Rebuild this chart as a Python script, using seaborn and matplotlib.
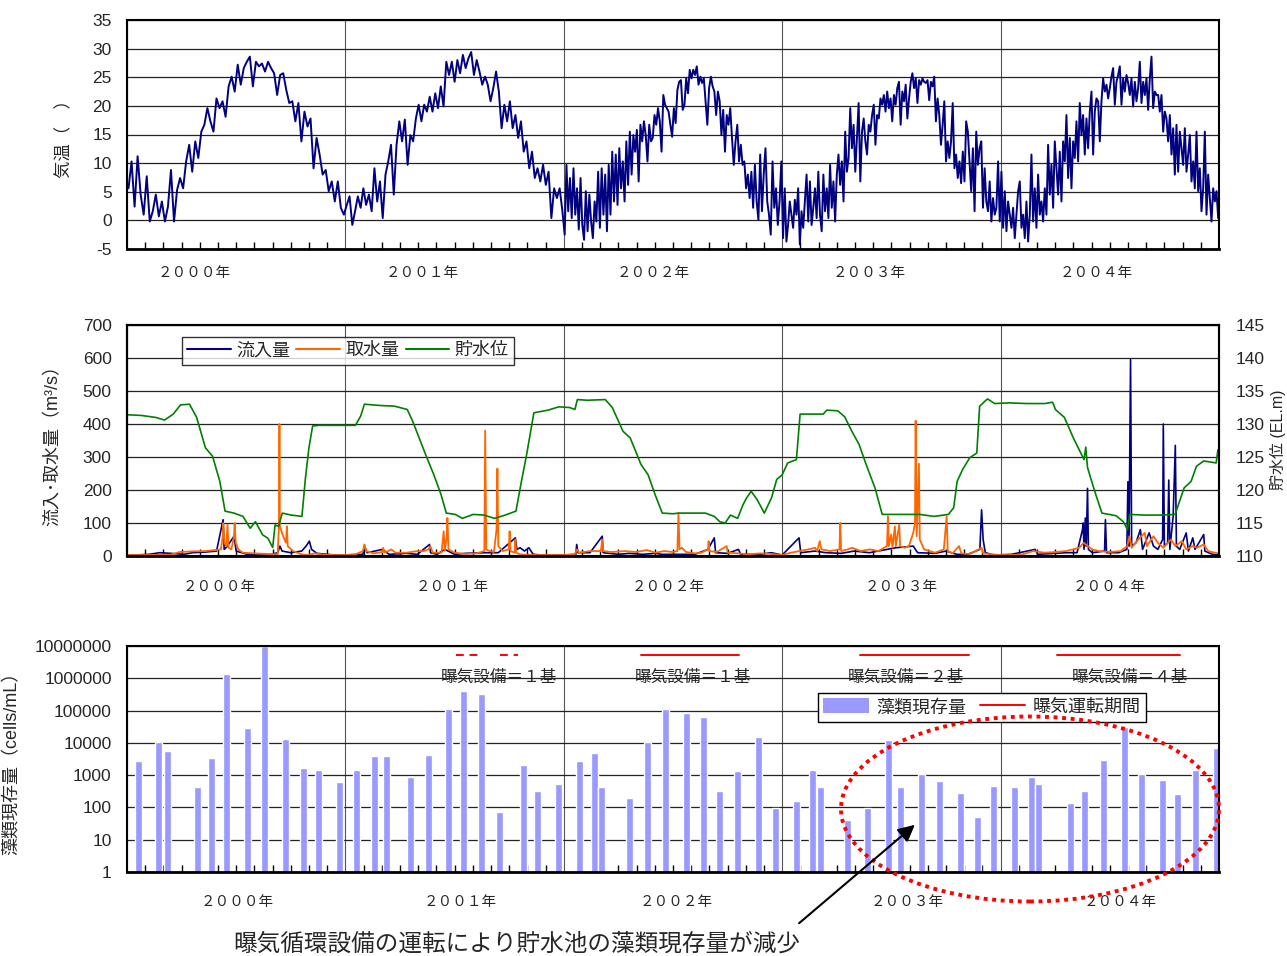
import numpy as np
import pandas as pd
import matplotlib
matplotlib.use("Agg")
import matplotlib.pyplot as plt
import seaborn as sns
from matplotlib.patches import Ellipse, FancyArrowPatch, Patch
from matplotlib.lines import Line2D
from matplotlib.transforms import blended_transform_factory

# ---------------- DATA ----------------
years = [2000, 2001, 2002, 2003, 2004]
year_labels = ["２０００年", "２００１年", "２００２年", "２００３年", "２００４年"]

# Air temperature (deg C), samples evenly spread over each year
temp_2000 = [5.6, 10.3, 2.4, 11.2, 4.5, 1.0, 7.7, -0.2, 1.6, 4.5, 0.7, 3.3, -0.2, 2.4, 8.8, -0.2, 5.3, 7.4,
             5.6, 10.3, 13.2, 8.5, 13.8, 10.9, 15.5, 16.7, 19.6, 17.3, 15.5, 21.3, 19.6, 20.8, 18.1, 23.4,
             25.1, 22.5, 27.2, 23.7, 26.6, 27.7, 28.6, 23.4, 27.7, 26.9, 27.4, 26.0, 27.7, 26.6, 25.7, 21.9,
             25.4, 25.7, 22.8, 20.5, 20.8, 17.3, 20.5, 13.8, 19.0, 16.4, 17.8, 9.1, 14.4, 11.5, 8.0, 8.8,
             5.1, 6.8, 3.3, 6.8, 2.2, 1.0]
temp_2001 = [2.7, 4.2, -0.8, 1.6, 4.2, 2.2, 5.6, 2.7, 4.5, 1.6, 9.1, 3.3, 6.8, 0.4, 8.0, 10.3, 13.2,
             4.5, 13.2, 17.3, 13.8, 17.6, 9.7, 14.9, 13.8, 17.8, 20.2, 17.3, 20.2, 19.0, 21.6, 19.0, 22.2,
             19.6, 23.4, 19.9, 27.7, 25.4, 27.7, 24.2, 28.0, 25.7, 28.9, 26.6, 28.3, 29.4, 25.4, 28.0, 26.0,
             23.7, 25.1, 23.7, 20.8, 23.1, 26.0, 22.5, 16.1, 20.2, 17.3, 20.8, 16.1, 18.4, 14.4, 17.3, 12.0,
             13.8, 9.1, 12.0, 7.4, 9.1, 6.8, 9.7, 6.2, 8.5, 0.4, 5.6, 3.9, 5.6, 1.6]
temp_2002 = [-2.5, 9.7, 1.6, 7.4, 0.4, 9.1, 1.0, 5.6, -1.6, 7.4, -0.8, -3.4, 5.1, -1.9, 4.5, -0.2, -3.1, 3.3,
             -0.2, 8.5, -1.3, 9.1, 1.0, 8.0, -1.9, 9.7, 1.0, 12.0, 3.3, 11.5, 2.7, 12.6, 5.6, 10.3, 3.3, 13.8,
             6.2, 15.5, 8.0, 14.9, 12.0, 15.8, 6.8, 16.7, 13.8, 17.3, 14.9, 10.3, 16.7, 13.8, 14.4, 18.4, 16.7,
             19.6, 17.3, 12.0, 21.9, 20.2, 19.6, 19.0, 16.7, 14.6, 19.6, 17.0, 22.8, 24.2, 24.5, 19.3,
             20.2, 24.8, 22.2, 26.3, 24.8, 26.3, 25.4, 26.9, 23.7, 25.1, 24.0, 24.8, 20.8, 16.7, 23.1, 25.1,
             23.4, 22.5, 18.4, 22.5, 20.8, 14.9, 19.3, 12.0, 18.4, 16.7, 19.6, 14.4, 9.7, 13.8, 16.7, 10.3,
             13.2, 9.7, 10.3, 5.6, 8.0, 3.9, 8.5, 2.2, 9.7, 3.3, 0.1, 11.5, 1.6, 8.0, 12.6, 3.3, 1.0, -2.5,
             10.3, 2.2, 5.6, -0.8, 3.3, 10.3]
temp_2003 = [-3.1, 5.6, -3.7, -0.8, 3.3, 1.0, -1.3, 3.6, 1.0, 5.6, -4.2, 1.6, -1.3, 3.3, 8.0, -0.2, 6.8, -0.8,
             2.2, 5.6, 0.4, 8.5, 1.0, -1.9, 8.0, 1.6, 5.6, 0.4, 9.7, 2.2, 6.8, -0.2, 8.0, 11.5, 6.2, 10.3, 3.3,
             15.5, 8.5, 10.9, 19.6, 12.6, 16.7, 8.5, 14.4, 20.5, 6.8, 15.5, 17.8, 13.8, 11.5, 16.7, 15.5, 18.4,
             20.2, 13.2, 18.4, 17.8, 21.3, 20.2, 21.9, 19.0, 22.5, 19.6, 21.3, 17.3, 21.9, 20.2, 23.1, 24.2,
             16.7, 22.5, 20.8, 23.7, 17.8, 21.3, 24.2, 25.7, 23.1, 24.8, 20.5, 24.5, 23.7, 24.8, 24.2, 24.0,
             24.5, 21.0, 24.2, 23.4, 25.1, 17.3, 21.3, 18.4, 13.2, 16.7, 20.8, 10.3, 13.8, 10.9, 13.8, 20.5,
             9.1, 11.5, 7.4, 10.3, 6.5, 12.0, 6.8, 17.3, 15.5,
             10.3, 5.1, 12.6, 1.6, 15.5, 9.7, 12.6, 13.8, 2.2, 9.1, 3.3, 1.6, 6.8, -0.2, 3.9, 1.0, 2.2, 10.3, -0.2]
temp_2004 = [8.5, -1.3, 5.1, -1.9, 3.3, 1.0, -1.3, 2.2, -3.1, 1.0, 5.1, 6.8, -1.3, 1.0, -3.1, 3.3, -3.7, 1.0,
             11.5, -0.2, 5.6, -1.3, 8.0, 1.0, 3.3, -0.2, 5.6, 1.0, 13.2, 4.5, 9.7, 2.2, 13.8, 9.1, 4.5, 12.0,
             3.3, 13.8, 10.3, 18.4, 7.4, 14.4, 5.6, 13.8, 10.9, 17.3, 10.3, 20.5, 14.9, 18.4, 11.5, 17.8, 12.6,
             19.0, 22.5, 11.5, 19.0, 21.3, 20.8, 13.8, 20.8, 24.8, 22.5, 23.7, 21.3, 23.1, 25.1, 26.6, 20.2,
             24.2, 25.4, 26.9, 20.2, 24.8, 22.5, 25.4, 24.0, 21.9, 24.8, 19.9, 24.2, 20.8, 23.1, 27.7, 20.5,
             24.2, 21.9, 24.8, 19.3, 24.8, 28.6, 19.6, 22.5, 21.9, 21.9, 19.0, 21.9, 15.5, 19.0, 17.8, 13.8,
             18.4, 11.5, 16.1, 8.0, 16.7, 8.5, 15.5, 12.6, 9.7, 16.1, 8.5, 11.5, 14.9, 6.8, 10.3, 5.6, 15.5,
             5.1, 9.1, 1.6, 5.6, 15.5, 1.0, 8.0, 3.9, -0.2, 5.6, 3.3, 5.1, 0.4]
temps = [temp_2000, temp_2001, temp_2002, temp_2003, temp_2004]

# Reservoir water level (EL.m); time in years since 2000-01-01
level_t = [0.000, 0.065, 0.131, 0.172, 0.212, 0.245, 0.286, 0.319, 0.359, 0.392, 0.425, 0.449, 0.490, 0.531,
           0.564, 0.588, 0.621, 0.645, 0.667, 0.678, 0.694, 0.711, 0.752, 0.801, 0.817, 0.833, 0.850, 0.882,
           0.948, 1.000, 1.046, 1.070, 1.087, 1.160, 1.225, 1.283, 1.307, 1.340, 1.373, 1.405, 1.438, 1.462,
           1.503, 1.536, 1.585, 1.634, 1.683, 1.732, 1.781, 1.806, 1.830, 1.863, 1.928, 1.977, 2.026, 2.051,
           2.062, 2.108, 2.190, 2.222, 2.271, 2.304, 2.353, 2.386, 2.418, 2.451, 2.500, 2.526, 2.583, 2.648,
           2.689, 2.714, 2.739, 2.763, 2.796, 2.821, 2.837, 2.858, 2.886, 2.918, 2.951, 2.975, 3.000, 3.025,
           3.065, 3.082, 3.139, 3.188, 3.204, 3.254, 3.286, 3.319, 3.352, 3.384, 3.425, 3.458, 3.548, 3.630,
           3.695, 3.761, 3.785, 3.801, 3.826, 3.859, 3.891, 3.904, 3.940, 3.973, 4.038, 4.120, 4.202, 4.238,
           4.251, 4.292, 4.333, 4.382, 4.390, 4.398, 4.431, 4.464, 4.529, 4.562, 4.581, 4.591, 4.660, 4.742,
           4.799, 4.840, 4.872, 4.897, 4.930, 4.987, 4.995]
level_v = [131.4, 131.3, 131.0, 130.6, 131.5, 132.9, 133.0, 131.0, 126.4, 125.1, 121.3, 116.8, 116.5, 116.0,
           114.2, 115.2, 113.2, 112.7, 111.3, 114.7, 114.5, 116.5, 116.2, 116.0, 121.8, 126.4, 129.7, 129.8,
           129.8, 129.8, 129.8, 131.2, 133.0, 132.8, 132.7, 132.2, 130.5, 127.7, 124.9, 122.3, 119.3, 116.5,
           116.3, 115.7, 116.3, 116.2, 115.7, 116.2, 116.8, 121.3, 125.4, 131.7, 132.1, 132.6, 132.5, 132.2,
           133.7, 133.6, 133.7, 132.5, 128.9, 127.9, 123.9, 122.3, 119.3, 116.5, 116.4, 116.5, 116.5, 116.5,
           116.0, 115.2, 115.0, 116.2, 115.7, 117.8, 118.8, 119.8, 118.5, 116.5, 118.8, 121.6, 122.3, 124.1,
           124.6, 131.5, 131.5, 131.5, 132.1, 132.0, 131.1, 128.9, 126.9, 123.9, 120.3, 116.3, 116.3, 116.3,
           116.0, 116.3, 117.3, 121.3, 123.1, 124.9, 125.6, 132.7, 133.8, 133.1, 133.2, 133.1, 133.1, 133.3,
           132.2, 131.0, 127.9, 124.6, 126.5, 123.4, 119.8, 116.5, 116.1, 115.2, 114.0, 116.3, 116.2, 116.2,
           116.3, 120.3, 121.3, 123.6, 124.4, 124.1, 126.1]

# Inflow (m3/s)
inflow_t = [0.00, 0.10, 0.15, 0.20, 0.26, 0.30, 0.36, 0.41, 0.440, 0.445, 0.46, 0.49, 0.50, 0.55, 0.60, 0.65,
            0.69, 0.70, 0.71, 0.75, 0.80, 0.82, 0.835, 0.845, 0.87, 0.95, 1.00, 1.08, 1.087, 1.10, 1.17, 1.20,
            1.28, 1.33, 1.385, 1.39, 1.42, 1.455, 1.50, 1.55, 1.64, 1.70, 1.778, 1.785, 1.80, 1.82, 1.84, 1.86,
            1.90, 2.00, 2.055, 2.059, 2.065, 2.12, 2.176, 2.18, 2.25, 2.30, 2.36, 2.42, 2.45, 2.52, 2.60, 2.66,
            2.689, 2.695, 2.75, 2.80, 2.81, 2.90, 2.95, 3.00, 3.077, 3.085, 3.15, 3.20, 3.27, 3.33, 3.40, 3.48,
            3.52, 3.60, 3.62, 3.70, 3.75, 3.80, 3.85, 3.905, 3.913, 3.920, 3.93, 3.97, 4.05, 4.158, 4.17, 4.25,
            4.30, 4.35, 4.375, 4.378, 4.382, 4.388, 4.392, 4.398, 4.402, 4.42, 4.476, 4.480, 4.485, 4.54, 4.578,
            4.583, 4.588, 4.595, 4.60, 4.62, 4.64, 4.65, 4.68, 4.70, 4.72, 4.742, 4.745, 4.750, 4.765, 4.770,
            4.775, 4.79, 4.800, 4.805, 4.82, 4.85, 4.86, 4.88, 4.89, 4.93, 4.935, 4.97, 5.00]
inflow_v = [2, 5, 10, 8, 5, 10, 12, 15, 110, 20, 30, 60, 15, 5, 3, 3,
            10, 30, 15, 10, 15, 30, 45, 20, 8, 3, 3, 5, 30, 10, 20, 5,
            8, 5, 35, 10, 5, 20, 5, 8, 10, 10, 55, 20, 25, 15, 25, 5,
            3, 3, 5, 35, 10, 10, 60, 10, 5, 8, 5, 8, 5, 5, 5, 20,
            55, 10, 8, 20, 5, 5, 10, 3, 55, 10, 15, 10, 8, 15, 10, 20,
            25, 30, 10, 8, 15, 5, 5, 20, 140, 50, 10, 3, 5, 20, 5, 8,
            10, 10, 80, 100, 20, 115, 30, 205, 20, 10, 15, 110, 10, 10, 20,
            225, 30, 595, 30, 40, 80, 20, 70, 30, 20, 50, 400, 30, 40, 230,
            20, 120, 335, 30, 20, 70, 15, 55, 20, 65, 15, 5, 3]

# Water intake (m3/s)
intake_t = [0.00, 0.10, 0.20, 0.24, 0.30, 0.36, 0.40, 0.43, 0.438, 0.441, 0.446, 0.455, 0.460, 0.465, 0.478,
            0.490, 0.493, 0.498, 0.51, 0.53, 0.58, 0.65, 0.690, 0.696, 0.698, 0.700, 0.705, 0.715, 0.728, 0.732,
            0.736, 0.76, 0.80, 0.83, 0.86, 0.90, 0.95, 1.00, 1.05, 1.08, 1.087, 1.095, 1.13, 1.17, 1.173, 1.18,
            1.21, 1.23, 1.28, 1.33, 1.36, 1.38, 1.389, 1.40, 1.44, 1.450, 1.455, 1.464, 1.467, 1.472, 1.50, 1.55,
            1.60, 1.636, 1.640, 1.645, 1.660, 1.680, 1.692, 1.696, 1.700, 1.72, 1.748, 1.752, 1.756, 1.775,
            1.778, 1.782, 1.80, 1.85, 1.95, 2.00, 2.05, 2.06, 2.07, 2.12, 2.17, 2.176, 2.18, 2.22, 2.28, 2.33,
            2.38, 2.42, 2.46, 2.50, 2.52, 2.525, 2.530, 2.54, 2.56, 2.60, 2.63, 2.660, 2.663, 2.667, 2.70, 2.746,
            2.75, 2.80, 2.84, 2.90, 2.95, 3.00, 3.04, 3.08, 3.12, 3.151, 3.16, 3.172, 3.18, 3.22, 3.262, 3.266,
            3.270, 3.30, 3.32, 3.36, 3.40, 3.44, 3.48, 3.484, 3.488, 3.499, 3.505, 3.516, 3.52, 3.536, 3.54,
            3.56, 3.58, 3.60, 3.608, 3.611, 3.616, 3.626, 3.63, 3.65, 3.70, 3.74, 3.753, 3.758, 3.78, 3.81,
            3.82, 3.86, 3.913, 3.92, 3.96, 4.00, 4.05, 4.10, 4.15, 4.20, 4.25, 4.30, 4.36, 4.38, 4.40, 4.42,
            4.45, 4.50, 4.55, 4.58, 4.59, 4.60, 4.63, 4.66, 4.67, 4.70, 4.72, 4.745, 4.78, 4.80, 4.83, 4.85,
            4.88, 4.90, 4.93, 4.95, 4.98, 5.00]
intake_v = [3, 3, 4, 12, 14, 15, 18, 20, 60, 100, 40, 30, 95, 25, 20,
            60, 100, 40, 20, 10, 8, 6, 5, 100, 400, 90, 80, 60, 40, 90,
            30, 15, 5, 3, 8, 4, 3, 3, 6, 15, 35, 15, 8, 12, 25, 10,
            20, 10, 10, 15, 15, 20, 30, 10, 10, 75, 15, 60, 115, 20, 10, 6,
            8, 15, 380, 20, 15, 12, 80, 265, 30, 15, 20, 75, 15, 10,
            50, 10, 5, 3, 3, 3, 5, 20, 10, 15, 15, 50, 15, 12, 15, 12,
            18, 10, 15, 12, 15, 130, 20, 25, 12, 8, 10, 20, 45, 15, 12, 30,
            10, 8, 5, 8, 6, 3, 10, 15, 20, 25, 15, 45, 20, 15, 20, 100,
            15, 20, 25, 15, 20, 15, 30, 120, 30, 65, 25, 90, 30, 95, 30,
            25, 30, 70, 100, 410, 60, 280, 50, 20, 10, 20, 120, 15, 8, 30,
            8, 6, 25, 8, 5, 3, 3, 5, 15, 10, 12, 15, 25, 40, 30, 20,
            15, 12, 15, 30, 60, 25, 50, 70, 30, 60, 40, 25, 50, 30, 45, 20,
            30, 25, 35, 15, 10, 8]

# Algae standing crop (cells/mL); sampling time in years since 2000-01-01
algae_t = [0.054, 0.145, 0.186, 0.321, 0.386, 0.456, 0.551, 0.631, 0.727, 0.809, 0.878, 0.974,
           1.052, 1.134, 1.189, 1.299, 1.381, 1.473, 1.539, 1.624, 1.706, 1.816, 1.880, 1.977,
           2.071, 2.141, 2.173, 2.301, 2.384, 2.466, 2.563, 2.641, 2.713, 2.794, 2.892, 2.970,
           3.066, 3.138, 3.176, 3.298, 3.391, 3.488, 3.542, 3.638, 3.719, 3.816, 3.895, 3.968,
           4.063, 4.142, 4.174, 4.320, 4.384, 4.472, 4.566, 4.645, 4.741, 4.811, 4.893, 4.988]
algae_v = [2700, 10500, 5600, 425, 3500, 1400000, 28000, 10000000, 13000, 1700, 1450, 600,
           1450, 3800, 3800, 890, 4300, 110000, 400000, 330000, 74, 2100, 330, 540,
           2700, 5000, 415, 200, 10500, 110000, 83000, 65000, 330, 1300, 15000, 98,
           157, 1420, 415, 41, 99, 12000, 415, 1100, 670, 285, 52, 470,
           415, 890, 525, 136, 330, 2950, 30000, 1100, 700, 260, 1420, 7000]

# Aeration operation periods (years since 2000-01-01) and number of units
aeration_start = [1.505, 1.706, 2.352, 3.354, 4.257]
aeration_end = [1.610, 1.789, 2.800, 3.854, 4.820]
aeration_dashed = [True, True, False, False, False]
aeration_label_t = [1.703, 2.590, 3.565, 4.591]
aeration_labels = ["曝気設備＝１基", "曝気設備＝１基", "曝気設備＝２基", "曝気設備＝４基"]

temp_ticks = [-5, 0, 5, 10, 15, 20, 25, 30, 35]
flow_ticks = [0, 100, 200, 300, 400, 500, 600, 700]
level_ticks = [110, 115, 120, 125, 130, 135, 140, 145]
algae_ticks = [1, 10, 100, 1000, 10000, 100000, 1000000, 10000000]
algae_tick_labels = ["1", "10", "100", "1000", "10000", "100000", "1000000", "10000000"]

# ---------------- STYLE / LAYOUT ----------------
sns.set_style("white")
plt.rcParams['font.family'] = ['Liberation Sans', 'Noto Sans CJK JP', 'DejaVu Sans']
plt.rcParams['axes.unicode_minus'] = False

W, H = 1287, 956
fig = plt.figure(figsize=(W / 100, H / 100), dpi=100)
fig.patch.set_facecolor('white')


def axrect(l, t, r, b):
    return [l / W, 1 - b / H, (r - l) / W, (b - t) / H]


ax1 = fig.add_axes(axrect(127, 20, 1219, 249))
ax2 = fig.add_axes(axrect(127, 325, 1219, 556))
ax3 = fig.add_axes(axrect(127, 646, 1219, 872))

TICK_FS = 12.5
NAVY = '#000080'
ORANGE = '#FF6600'
GREEN = '#008000'
BARC = '#9999FF'


def base_axes(ax, label_offsets, label_y):
    ax.set_xlim(2000, 2005)
    ax.set_xticks([y for y in years] + [2005])
    ax.set_xticklabels([])
    ax.set_xticks(np.arange(2000, 2005.001, 1 / 12), minor=True)
    ax.tick_params(axis='x', which='major', length=0)
    ax.tick_params(axis='x', which='minor', direction='in', length=5, width=1, bottom=True, color='black')
    ax.tick_params(axis='y', which='both', length=0, labelsize=TICK_FS, pad=11)
    ax.xaxis.grid(True, which='major', color='#555555', lw=0.8)
    ax.yaxis.grid(True, which='major', color='#222222', lw=0.9)
    ax.set_axisbelow(True)
    for s in ax.spines.values():
        s.set_color('black')
        s.set_linewidth(1.5)
    ax.spines['bottom'].set_linewidth(2.0)
    tr = blended_transform_factory(ax.transData, ax.transAxes)
    for y, lab, off in zip(years, year_labels, label_offsets):
        ax.text(y + off, label_y, lab, transform=tr, ha='center', va='center', fontsize=10.5)


# ---- Panel 1: air temperature ----
frames = []
for yr, vals in zip(years, temps):
    n = len(vals)
    frames.append(pd.DataFrame({'t': yr + (np.arange(n) + 0.5) / n, 'temp': vals}))
df_temp = pd.concat(frames, ignore_index=True)
sns.lineplot(data=df_temp, x='t', y='temp', ax=ax1, color=NAVY, lw=1.4, estimator=None, sort=False)
ax1.set_ylim(-5, 35)
ax1.set_yticks(temp_ticks)
ax1.set_yticklabels([str(v) for v in temp_ticks])
ax1.set_xlabel('')
ax1.set_ylabel('気温（　）', fontsize=12.5)
ax1.yaxis.set_label_coords(-0.050, 0.5)
base_axes(ax1, [0.31, 0.35, 0.41, 0.40, 0.44], -0.105)

# ---- Panel 2: inflow / intake / water level ----
sns.lineplot(x=np.array(inflow_t) + 2000, y=inflow_v, ax=ax2, color=NAVY, lw=1.2, estimator=None, sort=False)
sns.lineplot(x=np.array(intake_t) + 2000, y=intake_v, ax=ax2, color=ORANGE, lw=1.3, estimator=None, sort=False)
ax2.set_ylim(0, 700)
ax2.set_yticks(flow_ticks)
ax2.set_yticklabels([str(v) for v in flow_ticks])
ax2.set_xlabel('')
ax2.set_ylabel('流入･取水量（m³/s）', fontsize=13)
ax2.yaxis.set_label_coords(-0.060, 0.5)
base_axes(ax2, [0.424, 0.487, 0.476, 0.547, 0.499], -0.134)

ax2b = ax2.twinx()
sns.lineplot(x=np.array(level_t) + 2000, y=level_v, ax=ax2b, color=GREEN, lw=1.2, estimator=None, sort=False)
ax2b.set_xlim(2000, 2005)
ax2b.set_ylim(110, 145)
ax2b.set_yticks(level_ticks)
ax2b.set_yticklabels([str(v) for v in level_ticks])
ax2b.tick_params(axis='y', length=0, labelsize=TICK_FS, pad=12)
ax2b.set_ylabel('')
ax2b.grid(False)
for s in ax2b.spines.values():
    s.set_color('black')
    s.set_linewidth(1.5)
fig.text(1286 / W, 1 - 440 / H, '貯水位 (EL.m)', rotation=90, ha='right', va='center', fontsize=11.5)

h2 = [Line2D([], [], color=NAVY, lw=1.5), Line2D([], [], color=ORANGE, lw=1.5), Line2D([], [], color=GREEN, lw=1.5)]
leg2 = ax2b.legend(h2, ['流入量', '取水量', '貯水位'], loc='upper left',
                   bbox_to_anchor=(182 / W, 1 - 337 / H), bbox_transform=fig.transFigure,
                   ncol=3, frameon=True, fancybox=False, edgecolor='black', fontsize=13,
                   handlelength=2.4, columnspacing=0.35, handletextpad=0.3, borderpad=0.3,
                   borderaxespad=0)
leg2.get_frame().set_linewidth(1.0)

# ---- Panel 3: algae ----
ax3.bar(np.array(algae_t) + 2000, algae_v, width=0.032, color=BARC, log=True, zorder=2)
ax3.set_yscale('log')
ax3.set_ylim(1, 1e7)
ax3.set_yticks(algae_ticks)
ax3.set_yticklabels(algae_tick_labels)
ax3.yaxis.set_minor_locator(matplotlib.ticker.NullLocator())
ax3.set_ylabel('藻類現存量（cells/mL）', fontsize=13)
ax3.yaxis.set_label_coords(-0.098, 0.5)
base_axes(ax3, [0.507, 0.528, 0.517, 0.574, 0.550], -0.133)

tr3 = blended_transform_factory(ax3.transData, ax3.transAxes)
for s, e, d in zip(aeration_start, aeration_end, aeration_dashed):
    ax3.plot([s + 2000, e + 2000], [0.958, 0.958], transform=tr3, color='red', lw=1.4,
             ls=(0, (4, 3)) if d else '-', zorder=3)
for t, lab in zip(aeration_label_t, aeration_labels):
    ax3.text(t + 2000, 0.863, lab, transform=tr3, ha='center', va='center', fontsize=12, zorder=3)

h3 = [Patch(facecolor=BARC, edgecolor='none'), Line2D([], [], color='red', lw=1.4)]
leg3 = ax3.legend(h3, ['藻類現存量', '曝気運転期間'], loc='upper left',
                  bbox_to_anchor=(818 / W, 1 - 693 / H), bbox_transform=fig.transFigure,
                  ncol=2, frameon=True, fancybox=False, edgecolor='black', fontsize=13,
                  handlelength=2.5, handleheight=0.9, columnspacing=0.8, handletextpad=0.4,
                  borderpad=0.3, borderaxespad=0, framealpha=1)
leg3.get_frame().set_linewidth(1.0)
leg3.set_zorder(5)

# ---- Annotation: dotted ellipse, arrow, caption ----
ell = Ellipse((1030 / W, 1 - 809 / H), 378 / W, 185 / H, transform=fig.transFigure,
              fill=False, edgecolor='red', lw=2.8, ls=(0, (1, 1.2)))
fig.add_artist(ell)
arr = FancyArrowPatch((797 / W, 1 - 925 / H), (917 / W, 1 - 823 / H), transform=fig.transFigure,
                      arrowstyle='-|>', mutation_scale=25, color='black', lw=1.5)
fig.add_artist(arr)
fig.text(517 / W, 1 - 944 / H, '曝気循環設備の運転により貯水池の藻類現存量が減少',
         ha='center', va='center', fontsize=17)

fig.savefig('out.png', dpi=100, facecolor='white')
